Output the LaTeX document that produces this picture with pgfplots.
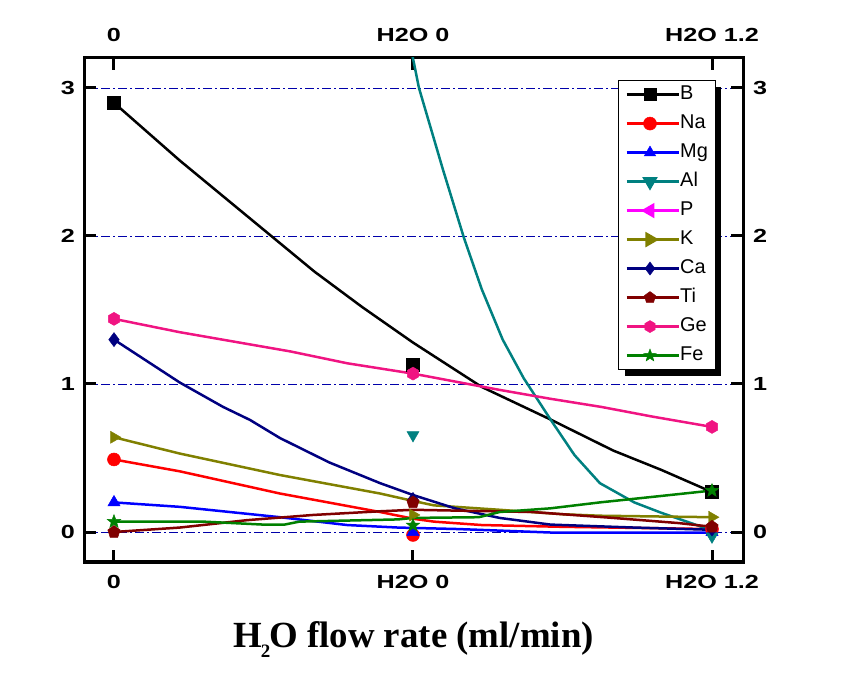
\documentclass[border=0pt]{standalone}
\usepackage{fontspec}
\usepackage{graphicx}
\usepackage{pgfplots}
\pgfplotsset{compat=1.18}
\newfontfamily\tickfont{Liberation Sans}
\newfontfamily\legfont{Liberation Sans}
\newfontfamily\labfont{Liberation Serif}
\newcommand\tl[1]{\scalebox{1.33}[1]{#1}}
\definecolor{cNa}{RGB}{255,0,0}
\definecolor{cMg}{RGB}{0,0,255}
\definecolor{cAl}{RGB}{0,128,128}
\definecolor{cP}{RGB}{255,0,255}
\definecolor{cK}{RGB}{128,128,0}
\definecolor{cCa}{RGB}{0,0,128}
\definecolor{cTi}{RGB}{128,0,0}
\definecolor{cGe}{RGB}{240,20,130}
\definecolor{cFe}{RGB}{0,128,0}
\definecolor{cGrid}{RGB}{0,0,170}
\pgfdeclareplotmark{fstar}{%
 \pgfpathmoveto{\pgfqpointpolar{90}{\pgfplotmarksize}}%
 \pgfpathlineto{\pgfqpointpolar{126}{0.42\pgfplotmarksize}}%
 \pgfpathlineto{\pgfqpointpolar{162}{\pgfplotmarksize}}%
 \pgfpathlineto{\pgfqpointpolar{198}{0.42\pgfplotmarksize}}%
 \pgfpathlineto{\pgfqpointpolar{234}{\pgfplotmarksize}}%
 \pgfpathlineto{\pgfqpointpolar{270}{0.42\pgfplotmarksize}}%
 \pgfpathlineto{\pgfqpointpolar{306}{\pgfplotmarksize}}%
 \pgfpathlineto{\pgfqpointpolar{342}{0.42\pgfplotmarksize}}%
 \pgfpathlineto{\pgfqpointpolar{18}{\pgfplotmarksize}}%
 \pgfpathlineto{\pgfqpointpolar{54}{0.42\pgfplotmarksize}}%
 \pgfpathclose
 \pgfusepathqfillstroke}
\pgfdeclareplotmark{hexa}{%
 \pgfpathmoveto{\pgfqpointpolar{90}{\pgfplotmarksize}}%
 \pgfpathlineto{\pgfqpointpolar{150}{\pgfplotmarksize}}%
 \pgfpathlineto{\pgfqpointpolar{210}{\pgfplotmarksize}}%
 \pgfpathlineto{\pgfqpointpolar{270}{\pgfplotmarksize}}%
 \pgfpathlineto{\pgfqpointpolar{330}{\pgfplotmarksize}}%
 \pgfpathlineto{\pgfqpointpolar{30}{\pgfplotmarksize}}%
 \pgfpathclose
 \pgfusepathqfillstroke}
\pgfplotsset{
  ln/.style={forget plot, line width=2.5bp},
  mk/.style={forget plot, only marks, mark options={solid, line width=0.5bp}},
  lg/.style={line width=2.5bp, mark options={solid, line width=0.5bp}},
  frame/.style={
    at={(84bp,112bp)}, anchor=south west, scale only axis,
    width=659bp, height=504bp,
    xmin=-0.1003, xmax=2.1037, ymin=-0.2027, ymax=3.2027,
    xtick={0,1,2}, ytick={0,1,2,3},
    xticklabels={\tl{0},\tl{H2O 0},\tl{H2O 1.2}},
    yticklabels={\tl{0},\tl{1},\tl{2},\tl{3}},
    tick label style={font=\tickfont\bfseries\fontsize{19}{22}\selectfont, inner sep=0pt},
    minor tick num=0,
  }
}
\begin{document}
\begin{tikzpicture}
\path[use as bounding box] (0,0) rectangle (851bp,674bp);
\begin{axis}[frame,
  axis line style={line width=3bp},
  tick style={line width=3bp, black},
  major tick length=12bp, tick align=inside,
  xticklabel shift=13bp, yticklabel shift=9bp,
  ymajorgrids,
  major grid style={cGrid, line width=0.8bp, dash pattern=on 9bp off 3bp on 2bp off 3bp},
  xlabel={\labfont\bfseries\fontsize{37}{40}\selectfont H\kern-1bp\raisebox{-10bp}{\fontsize{19}{19}\selectfont 2}\kern-1bp O flow rate (ml/min)},
  xlabel style={at={(axis description cs:0.5,-0.169)}, anchor=base, inner sep=0pt},
  legend image code/.code={\draw[mark repeat=2,mark phase=2] plot coordinates {(0bp,0bp) (23bp,0bp) (46bp,0bp)}; \path (0bp,0bp) -- (52bp,0bp);},
  legend cell align=left,
  legend style={name=leg, at={(0.958,0.956)}, anchor=north east, draw=black, line width=0.8bp, fill=white,
    inner xsep=7bp, inner ysep=4bp, row sep=9bp,
    font=\legfont\fontsize{20}{24}\selectfont,
    nodes={inner sep=0pt, text height=15bp, text depth=5bp}},
]
% B
\addplot[ln, black] coordinates {(0,2.90) (0.22,2.51) (0.52,2.01) (0.67,1.76) (0.83,1.52) (1.0,1.28) (1.23,0.98) (1.46,0.76) (1.67,0.55) (1.83,0.42) (2.0,0.27)};
\addplot[mk, black, mark=square*, mark size=6.5bp] coordinates {(0,2.90) (1,1.13) (2,0.27)};
% Na
\addplot[ln, cNa] coordinates {(0,0.49) (0.22,0.41) (0.555,0.26) (0.89,0.135) (1.0,0.09) (1.07,0.07) (1.23,0.047) (1.5,0.035) (2.0,0.02)};
\addplot[mk, cNa, mark=*, mark size=6.5bp] coordinates {(0,0.49) (1,-0.02) (2,0.02)};
% Mg
\addplot[ln, cMg] coordinates {(0,0.20) (0.22,0.17) (0.555,0.10) (0.78,0.047) (0.95,0.03) (1.15,0.02) (1.48,-0.005) (2.0,-0.005)};
\addplot[mk, cMg, mark=triangle*, mark size=7bp] coordinates {(0,0.20) (1,0.0) (2,0.0)};
% Al
\addplot[ln, cAl] coordinates {(0.985,3.35) (1.0,3.2) (1.02,3.0) (1.10,2.45) (1.17,1.99) (1.23,1.64) (1.30,1.30) (1.37,1.04) (1.46,0.76) (1.54,0.52) (1.625,0.33) (1.74,0.20) (1.83,0.13) (1.93,0.06) (2.0,0.01)};
\addplot[mk, cAl, mark=triangle*, mark size=7bp, mark options={rotate=180}] coordinates {(1,0.655) (2,-0.03)};
% K
\addplot[ln, cK] coordinates {(0,0.64) (0.22,0.53) (0.555,0.385) (0.89,0.26) (1.0,0.21) (1.07,0.18) (1.29,0.15) (1.5,0.12) (1.625,0.11) (2.0,0.10)};
\addplot[mk, cK, mark=triangle*, mark size=7bp, mark options={rotate=-90}] coordinates {(0,0.64) (1,0.115) (2,0.10)};
% Ca
\addplot[ln, cCa] coordinates {(0,1.30) (0.22,1.01) (0.365,0.845) (0.455,0.757) (0.555,0.635) (0.72,0.47) (0.89,0.33) (1.0,0.25) (1.14,0.16) (1.29,0.095) (1.46,0.05) (1.74,0.03) (2.0,0.015)};
\addplot[mk, cCa, mark=diamond*, mark size=7bp] coordinates {(0,1.30) (1,0.22) (2,0.02)};
% Ti
\addplot[ln, cTi] coordinates {(0,0.0) (0.22,0.03) (0.445,0.08) (0.665,0.115) (0.89,0.14) (1.0,0.15) (1.40,0.135) (1.67,0.095) (1.89,0.06) (2.0,0.035)};
\addplot[mk, cTi, mark=pentagon*, mark size=6.5bp] coordinates {(0,0.0) (1,0.20) (2,0.035)};
% Ge
\addplot[ln, cGe] coordinates {(0,1.44) (0.22,1.35) (0.59,1.22) (0.78,1.14) (1.0,1.07) (1.29,0.96) (1.46,0.90) (1.63,0.845) (1.8,0.78) (2.0,0.71)};
\addplot[mk, cGe, mark=hexa, mark size=6.5bp] coordinates {(0,1.44) (1,1.07) (2,0.71)};
% Fe
\addplot[ln, cFe] coordinates {(0,0.07) (0.3,0.07) (0.5,0.05) (0.57,0.05) (0.62,0.07) (0.95,0.085) (1.0,0.095) (1.22,0.10) (1.29,0.135) (1.46,0.16) (1.625,0.20) (1.79,0.235) (2.0,0.28)};
\addplot[mk, cFe, mark=fstar, mark size=7bp] coordinates {(0,0.07) (1,0.045) (2,0.28)};
% legend
\addlegendimage{lg, black, mark=square*, mark size=6bp}
\addlegendentry{B}
\addlegendimage{lg, cNa, mark=*, mark size=6.5bp}
\addlegendentry{Na}
\addlegendimage{lg, cMg, mark=triangle*, mark size=6.5bp}
\addlegendentry{Mg}
\addlegendimage{lg, cAl, mark=triangle*, mark size=6.5bp, mark options={rotate=180}}
\addlegendentry{Al}
\addlegendimage{lg, cP, mark=triangle*, mark size=6.5bp, mark options={rotate=90}}
\addlegendentry{P}
\addlegendimage{lg, cK, mark=triangle*, mark size=6.5bp, mark options={rotate=-90}}
\addlegendentry{K}
\addlegendimage{lg, cCa, mark=diamond*, mark size=6.5bp}
\addlegendentry{Ca}
\addlegendimage{lg, cTi, mark=pentagon*, mark size=6bp}
\addlegendentry{Ti}
\addlegendimage{lg, cGe, mark=hexa, mark size=6bp}
\addlegendentry{Ge}
\addlegendimage{lg, cFe, mark=fstar, mark size=6.5bp}
\addlegendentry{Fe}
\end{axis}
\fill[black] ([yshift=-7bp]leg.north east) rectangle ([xshift=6bp,yshift=-6bp]leg.south east);
\fill[black] ([xshift=7bp,yshift=-6bp]leg.south west) rectangle (leg.south east);
\begin{axis}[frame,
  axis x line*=top, axis y line*=right,
  axis line style={draw=none}, major tick length=0pt,
  xticklabel shift=16bp, yticklabel shift=10bp,
]
\addplot[draw=none] coordinates {(0,0)};
\end{axis}
\end{tikzpicture}
\end{document}
